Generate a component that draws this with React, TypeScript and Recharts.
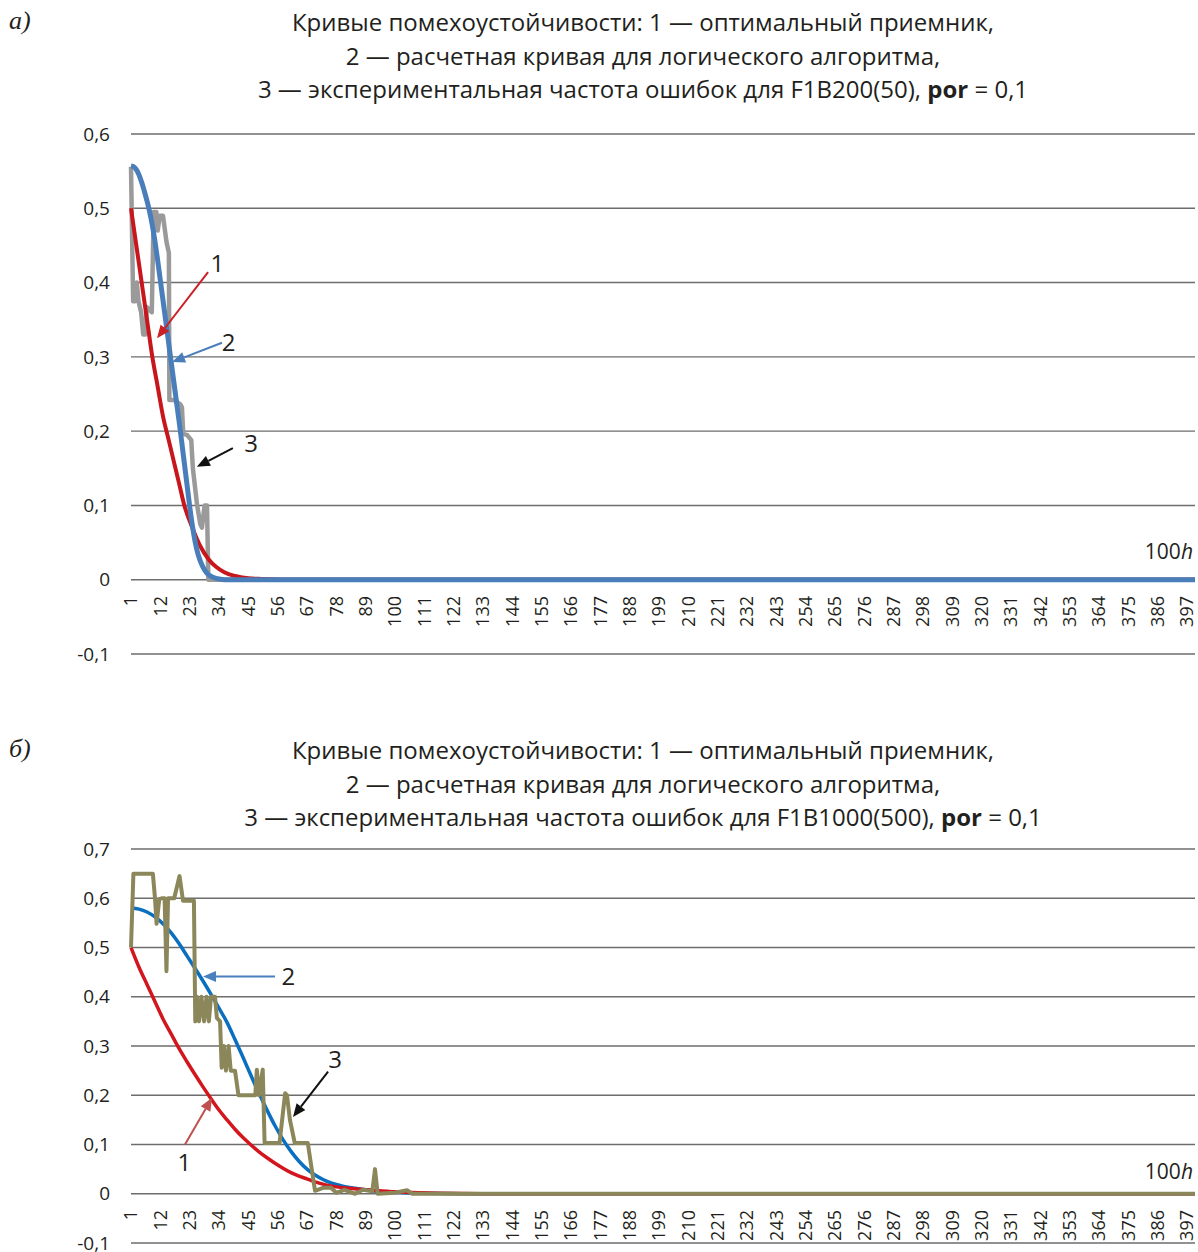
import React from "react";
import {
  LineChart,
  Line,
  XAxis,
  YAxis,
  CartesianGrid,
  ReferenceLine,
  ReferenceDot,
} from "recharts";

const FONT = '"Open Sans", "Noto Sans", sans-serif';
const INK = "#231f20";

// h index ticks (every 11th category is labelled)
const hTicks = [
  1, 12, 23, 34, 45, 56, 67, 78, 89, 100, 111, 122, 133, 144, 155, 166, 177, 188, 199,
  210, 221, 232, 243, 254, 265, 276, 287, 298, 309, 320, 331, 342, 353, 364, 375, 386, 397,
];
const yTicksA = [-0.1, 0, 0.1, 0.2, 0.3, 0.4, 0.5, 0.6];
const yTicksB = [-0.1, 0, 0.1, 0.2, 0.3, 0.4, 0.5, 0.6, 0.7];

// --- panel a) ---
const optAx = [1, 3, 5, 7, 9, 11, 13, 15, 17, 19, 21, 24, 27, 30, 33, 36, 40, 45, 50, 60, 400];
const optAy = [0.5, 0.45, 0.4, 0.35, 0.3, 0.26, 0.22, 0.19, 0.16, 0.13, 0.1, 0.07, 0.045, 0.028, 0.017, 0.01, 0.005, 0.002, 0.001, 0, 0];

const calcAx = [1, 2, 3, 4, 5, 6, 7, 8, 9, 10, 11, 12, 13, 14, 15, 16, 17, 18, 19, 20, 21, 22, 23, 24, 25, 26, 27, 28, 29, 30, 32, 34, 36, 400];
const calcAy = [0.557, 0.556, 0.552, 0.545, 0.535, 0.523, 0.51, 0.495, 0.477, 0.455, 0.43, 0.403, 0.376, 0.349, 0.322, 0.295, 0.268, 0.241, 0.214, 0.186, 0.157, 0.128, 0.099, 0.073, 0.052, 0.036, 0.025, 0.017, 0.011, 0.007, 0.003, 0.001, 0, 0];

const expAx = [1, 1.8, 2.6, 3.2, 3.8, 4.8, 5.6, 6.4, 6.9, 8.8, 9.5, 10.5, 11, 11.8, 13, 14.3, 15.2, 15.4, 17, 19.5, 20.1, 20.6, 22, 23.6, 24.2, 25.8, 27, 27.6, 28.6, 29.5, 30, 400];
const expAy = [0.556, 0.375, 0.375, 0.4, 0.375, 0.36, 0.33, 0.33, 0.367, 0.36, 0.495, 0.495, 0.47, 0.49, 0.49, 0.455, 0.44, 0.242, 0.242, 0.236, 0.232, 0.196, 0.195, 0.188, 0.15, 0.1, 0.075, 0.07, 0.1, 0.1, 0, 0];

// --- panel б) ---
const optBx = [1, 4, 7, 10, 13, 16, 19, 22, 25, 28, 31, 34, 37, 40, 43, 46, 49, 52, 55, 58, 61, 64, 67, 70, 74, 78, 84, 90, 100, 110, 125, 140, 400];
const optBy = [0.5, 0.46, 0.425, 0.39, 0.355, 0.325, 0.295, 0.268, 0.242, 0.217, 0.193, 0.17, 0.15, 0.131, 0.114, 0.099, 0.085, 0.073, 0.062, 0.052, 0.043, 0.036, 0.03, 0.024, 0.018, 0.014, 0.0105, 0.008, 0.004, 0.002, 0.0005, 0, 0];

const calcBx = [1, 4, 7, 10, 13, 16, 19, 22, 25, 28, 31, 34, 37, 40, 43, 46, 49, 52, 55, 58, 61, 64, 67, 70, 73, 76, 80, 85, 90, 95, 100, 110, 125, 400];
const calcBy = [0.58, 0.578, 0.572, 0.562, 0.548, 0.53, 0.508, 0.483, 0.458, 0.432, 0.405, 0.377, 0.348, 0.313, 0.277, 0.24, 0.204, 0.17, 0.138, 0.11, 0.086, 0.066, 0.05, 0.038, 0.029, 0.022, 0.016, 0.011, 0.007, 0.004, 0.003, 0.001, 0, 0];

const expBx = [1, 1.9, 9.2, 10, 10.6, 11.6, 12.5, 13.6, 14.3, 14.9, 17.2, 19.2, 20.5, 24.6, 25.1, 25.7, 26.5, 27.4, 28.4, 29.3, 30.2, 31, 32.5, 33.2, 34.4, 35, 35.8, 36.6, 37.6, 38.4, 40, 41.3, 47.6, 48.2, 49, 50.4, 51.1, 56.7, 58.8, 59.5, 60.6, 62.4, 67.3, 68.5, 70, 73, 76, 78, 81, 85, 88, 91.5, 92.5, 93.5, 100, 104.5, 106.5, 400];
const expBy = [0.5, 0.65, 0.65, 0.6, 0.548, 0.598, 0.6, 0.6, 0.452, 0.6, 0.6, 0.645, 0.595, 0.595, 0.35, 0.4, 0.35, 0.4, 0.35, 0.4, 0.35, 0.4, 0.4, 0.357, 0.35, 0.256, 0.3, 0.25, 0.3, 0.25, 0.25, 0.2, 0.2, 0.252, 0.2, 0.252, 0.103, 0.103, 0.204, 0.2, 0.15, 0.103, 0.103, 0.06, 0.006, 0.012, 0.012, 0.002, 0.008, 0, 0.008, 0.005, 0.05, 0, 0.002, 0.007, 0, 0];

const zip = (xs: number[], ys: number[]) => xs.map((x, i) => ({ x, y: ys[i] }));

interface Series {
  data: { x: number; y: number }[];
  color: string;
  width: number;
  type: "monotone" | "linear";
}

interface Note {
  from: [number, number];
  to: [number, number];
  label: [number, number];
  text: string;
  color: string;
}

function Arrow(props: any) {
  const { x1, y1, x2, y2, color } = props;
  const dx = x2 - x1;
  const dy = y2 - y1;
  const len = Math.hypot(dx, dy) || 1;
  const ux = dx / len;
  const uy = dy / len;
  const hl = 13;
  const hw = 5.5;
  const bx = x2 - ux * hl;
  const by = y2 - uy * hl;
  return (
    <g>
      <line x1={x1} y1={y1} x2={bx} y2={by} stroke={color} strokeWidth={2} />
      <polygon
        points={`${x2},${y2} ${bx - uy * hw},${by + ux * hw} ${bx + uy * hw},${by - ux * hw}`}
        fill={color}
      />
    </g>
  );
}

function HTick(props: any) {
  const { x, y, payload, lift } = props;
  const ty = y - lift;
  return (
    <text
      x={x}
      y={ty}
      transform={`rotate(-90 ${x} ${ty})`}
      textAnchor="end"
      dy="0.36em"
      fontSize={18}
      fontFamily={FONT}
      fill={INK}
    >
      {payload.value}
    </text>
  );
}

const fmt = (v: number) => (Math.abs(v) < 1e-9 ? "0" : v.toFixed(1).replace(".", ","));

interface PanelProps {
  height: number;
  top: number;
  axisHeight: number;
  lift: number;
  yTicks: number[];
  series: Series[];
  notes: Note[];
  hLabelY: number;
}

function Panel({ height, top, axisHeight, lift, yTicks, series, notes, hLabelY }: PanelProps) {
  return (
    <LineChart width={1198} height={height} margin={{ top, right: 3, left: 0, bottom: 0 }}>
      <CartesianGrid vertical={false} stroke="#6d6d6d" strokeWidth={1.4} />
      <XAxis
        type="number"
        dataKey="x"
        domain={[1, 400]}
        ticks={hTicks}
        interval={0}
        axisLine={false}
        tickLine={false}
        tickSize={0}
        tickMargin={0}
        height={axisHeight}
        tick={(p: any) => <HTick {...p} lift={lift} />}
      />
      <YAxis
        type="number"
        domain={[yTicks[0], yTicks[yTicks.length - 1]]}
        ticks={yTicks}
        interval={0}
        width={131}
        axisLine={false}
        tickLine={false}
        tickSize={0}
        tickMargin={21}
        tickFormatter={fmt}
        tick={{ fill: INK, fontSize: 19, fontFamily: FONT }}
      />
      {series.map((s, i) => (
        <Line
          key={i}
          data={s.data}
          dataKey="y"
          type={s.type}
          stroke={s.color}
          strokeWidth={s.width}
          strokeLinejoin="round"
          dot={false}
          activeDot={false}
          isAnimationActive={false}
        />
      ))}
      {notes.map((n, i) => (
        <ReferenceLine
          key={`a${i}`}
          segment={[
            { x: n.from[0], y: n.from[1] },
            { x: n.to[0], y: n.to[1] },
          ]}
          shape={(p: any) => <Arrow {...p} color={n.color} />}
        />
      ))}
      {notes.map((n, i) => (
        <ReferenceDot
          key={`t${i}`}
          x={n.label[0]}
          y={n.label[1]}
          r={0}
          shape={(p: any) => (
            <text x={p.cx} y={p.cy} dy="0.36em" textAnchor="middle" fontSize={24} fontFamily={FONT} fill={INK}>
              {n.text}
            </text>
          )}
        />
      ))}
      <ReferenceDot
        x={400}
        y={hLabelY}
        r={0}
        shape={(p: any) => (
          <text x={p.cx - 2} y={p.cy} dy="0.36em" textAnchor="end" fontSize={21} fontFamily={FONT} fill={INK}>
            100<tspan fontStyle="italic">h</tspan>
          </text>
        )}
      />
    </LineChart>
  );
}

const titleStyle: React.CSSProperties = {
  position: "absolute",
  left: 0,
  width: 1286,
  textAlign: "center",
  fontFamily: FONT,
  fontSize: 24,
  lineHeight: "33.5px",
  color: INK,
  whiteSpace: "nowrap",
};

const tagStyle: React.CSSProperties = {
  position: "absolute",
  left: 9,
  fontFamily: '"Liberation Serif", serif',
  fontStyle: "italic",
  fontSize: 26,
  lineHeight: "30px",
  color: INK,
};

function Title({ top, code }: { top: number; code: string }) {
  return (
    <div style={{ ...titleStyle, top }}>
      <div>Кривые помехоустойчивости: 1 — оптимальный приемник,</div>
      <div>2 — расчетная кривая для логического алгоритма,</div>
      <div>
        3 — экспериментальная частота ошибок для {code}, <b>por</b> = 0,1
      </div>
    </div>
  );
}

export default function App() {
  const seriesA: Series[] = [
    { data: zip(expAx, expAy), color: "#9a9a9a", width: 4.5, type: "linear" },
    { data: zip(optAx, optAy), color: "#c8161d", width: 4, type: "monotone" },
    { data: zip(calcAx, calcAy), color: "#4a7ebb", width: 5, type: "monotone" },
  ];
  const seriesB: Series[] = [
    { data: zip(calcBx, calcBy), color: "#0a6fbf", width: 3.5, type: "monotone" },
    { data: zip(optBx, optBy), color: "#d3161e", width: 3.5, type: "monotone" },
    { data: zip(expBx, expBy), color: "#8b875a", width: 4, type: "linear" },
  ];
  const notesA: Note[] = [
    { from: [29.9, 0.414], to: [10.75, 0.325], label: [33.4, 0.426], text: "1", color: "#cc1f26" },
    { from: [35.1, 0.319], to: [16.4, 0.293], label: [37.6, 0.32], text: "2", color: "#4a7ebb" },
    { from: [39.2, 0.177], to: [25.7, 0.152], label: [46, 0.183], text: "3", color: "#111" },
  ];
  const notesB: Note[] = [
    { from: [55, 0.441], to: [28, 0.441], label: [60, 0.441], text: "2", color: "#4a80c0" },
    { from: [74.9, 0.248], to: [61.75, 0.156], label: [77.5, 0.272], text: "3", color: "#111" },
    { from: [21.25, 0.1], to: [31.4, 0.195], label: [21, 0.063], text: "1", color: "#c0504d" },
  ];

  return (
    <div style={{ position: "absolute", left: 0, top: 0, width: 1198, height: 1252, background: "#fff", overflow: "hidden" }}>
      <div style={{ ...tagStyle, top: 6 }}>а)</div>
      <Title top={5} code="F1B200(50)" />
      <div style={{ position: "absolute", left: 0, top: 0 }}>
        <Panel height={690} top={134} axisHeight={36} lift={58} yTicks={yTicksA} series={seriesA} notes={notesA} hLabelY={0.038} />
      </div>
      <div style={{ ...tagStyle, top: 734 }}>б)</div>
      <Title top={733} code="F1B1000(500)" />
      <div style={{ position: "absolute", left: 0, top: 700 }}>
        <Panel height={552} top={149} axisHeight={9} lift={33} yTicks={yTicksB} series={seriesB} notes={notesB} hLabelY={0.045} />
      </div>
    </div>
  );
}
